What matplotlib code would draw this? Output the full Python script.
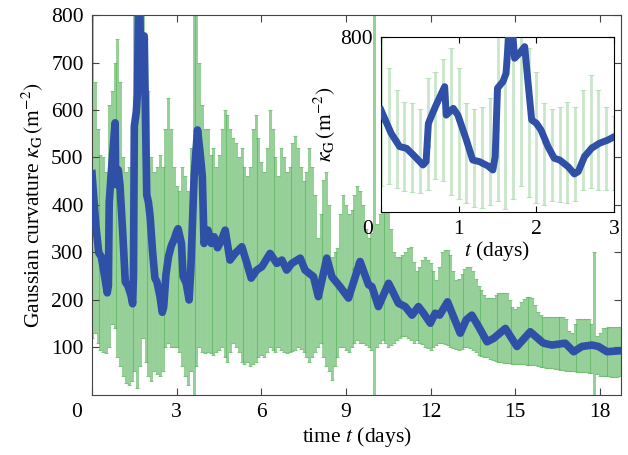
import matplotlib
matplotlib.use('Agg')
import matplotlib.pyplot as plt
import numpy as np

plt.rcParams['font.family'] = ['Liberation Serif', 'DejaVu Serif']
plt.rcParams['mathtext.fontset'] = 'stix'
plt.rcParams['font.size'] = 15.5

# --- smoothed Gaussian curvature (blue line) ---
smooth_t = [0.0, 0.13, 0.24, 0.33, 0.43, 0.54, 0.58, 0.61, 0.69, 0.78, 0.82, 0.84, 0.93, 0.99,
            1.10, 1.18, 1.27, 1.38, 1.44, 1.47, 1.50, 1.57, 1.61, 1.64, 1.66, 1.70, 1.72, 1.78,
            1.85, 1.89, 1.94, 2.00, 2.06, 2.15, 2.23, 2.30, 2.41, 2.49, 2.54, 2.62, 2.71, 2.81,
            2.92, 3.00, 3.05, 3.17, 3.23, 3.34, 3.44, 3.50, 3.62, 3.74, 3.82, 3.91, 3.97, 4.11,
            4.23, 4.33, 4.45, 4.58, 4.72, 4.89, 5.07, 5.31, 5.49, 5.64, 5.84, 6.02, 6.31, 6.55,
            6.73, 6.90, 7.08, 7.38, 7.55, 7.85, 8.02, 8.32, 8.50, 8.79, 9.09, 9.50, 9.80, 9.92,
            10.15, 10.51, 10.63, 10.86, 11.10, 11.34, 11.57, 11.75, 11.99, 12.16, 12.32, 12.60,
            12.81, 13.05, 13.26, 13.46, 13.70, 14.00, 14.23, 14.65, 15.06, 15.53, 16.00, 16.30,
            16.77, 17.07, 17.36, 17.72, 17.95, 18.25, 18.70]
smooth_kg = [466, 360, 299, 291, 256, 215, 230, 405, 474, 543, 573, 443, 474, 443,
             329, 238, 230, 210, 192, 253, 566, 596, 634, 786, 840, 800, 703, 725,
             756, 604, 421, 406, 375, 299, 246, 238, 207, 174, 185, 253, 291, 314,
             329, 344, 350, 319, 249, 235, 200, 263, 460, 558, 516, 460, 319, 347,
             319, 333, 310, 325, 347, 284, 298, 312, 277, 246, 263, 270, 298, 277,
             284, 263, 277, 288, 263, 249, 207, 288, 249, 228, 204, 281, 232, 228,
             186, 235, 221, 193, 186, 168, 186, 172, 151, 172, 168, 196,
             165, 130, 158, 168, 144, 112, 119, 140, 102, 133, 109, 105,
             109, 91, 102, 105, 102, 91, 93]

# --- measurements with error bars (green), one every 0.1 days ---
obs_t = np.arange(0, 18.75, 0.1)
obs_kg = [420, 380, 330, 300, 270, 230, 300, 470, 520, 470,
          420, 320, 240, 220, 200, 560, 640, 760, 730, 560,
          400, 320, 260, 240, 210, 180, 260, 300, 310, 330,
          340, 320, 250, 230, 200, 280, 460, 560, 510, 440,
          320, 350, 320, 330, 310, 320, 340, 345, 300, 285,
          295, 300, 305, 310, 290, 275, 250, 255, 262, 268,
          272, 282, 292, 298, 290, 278, 280, 285, 272, 264,
          272, 280, 285, 288, 282, 265, 258, 252, 248, 230,
          207, 240, 270, 288, 268, 249, 240, 232, 228, 220,
          210, 205, 235, 265, 278, 281, 265, 245, 232, 228,
          205, 190, 200, 215, 230, 235, 222, 208, 195, 192,
          190, 186, 178, 170, 172, 182, 184, 175, 165, 155,
          151, 165, 172, 168, 178, 190, 196, 182, 165, 150,
          135, 135, 152, 162, 168, 163, 152, 144, 130, 116,
          112, 115, 119, 125, 132, 137, 140, 136, 124, 112,
          104, 104, 112, 122, 130, 133, 128, 120, 114, 110,
          109, 107, 106, 105, 106, 108, 109, 109, 106, 98,
          92, 91, 97, 101, 102, 103, 104, 105, 104, 102,
          100, 96, 92, 91, 91, 92, 92, 93]
obs_hi = [800, 660, 560, 505, 500, 470, 611, 640, 700, 750,
          660, 500, 470, 480, 520, 800, 800, 800, 800, 750,
          640, 500, 470, 480, 505, 480, 560, 625, 560, 480,
          440, 430, 480, 460, 430, 520, 800, 800, 700, 610,
          560, 560, 505, 520, 480, 505, 560, 600, 590, 560,
          540, 530, 500, 520, 480, 460, 480, 560, 590, 540,
          490, 470, 520, 600, 560, 500, 460, 520, 500, 470,
          480, 530, 545, 520, 480, 450, 470, 520, 480, 420,
          330, 380, 453, 470, 400, 290, 300, 310, 380, 420,
          400, 380, 390, 420, 440, 430, 400, 350, 330, 340,
          800, 360, 380, 410, 420, 400, 350, 300, 290, 290,
          295, 300, 310, 312, 280, 262, 270, 285, 290, 285,
          277, 260, 242, 270, 300, 305, 305, 295, 260, 242,
          245, 255, 265, 270, 270, 262, 245, 230, 220, 210,
          205, 205, 205, 210, 214, 214, 214, 214, 200, 185,
          180, 185, 195, 202, 207, 207, 205, 190, 175, 168,
          165, 165, 165, 165, 165, 165, 165, 165, 160, 135,
          130, 150, 160, 160, 160, 160, 160, 150, 300, 125,
          130, 140, 142, 144, 144, 144, 144, 144]
obs_lo = [120, 130, 110, 95, 90, 88, 100, 150, 140, 80,
          60, 40, 25, 20, 30, 50, 15, 60, 120, 70,
          40, 30, 50, 45, 40, 50, 100, 110, 100, 100,
          100, 90, 60, 40, 20, 50, 0, 60, 100, 90,
          88, 90, 88, 85, 90, 95, 100, 80, 70, 90,
          110, 100, 90, 70, 65, 70, 60, 65, 70, 80,
          85, 80, 90, 100, 95, 90, 100, 95, 90, 88,
          90, 92, 95, 100, 96, 90, 80, 70, 80, 90,
          100, 110, 80, 60, 50, 31, 60, 80, 100, 100,
          95, 90, 100, 110, 115, 110, 110, 105, 100, 95,
          0, 100, 110, 115, 110, 100, 105, 110, 116, 120,
          125, 125, 120, 116, 110, 115, 110, 108, 100, 98,
          95, 100, 105, 110, 110, 108, 105, 100, 98, 96,
          95, 96, 100, 100, 98, 95, 90, 85, 82, 80,
          80, 76, 74, 72, 70, 70, 68, 67, 67, 66,
          66, 66, 65, 65, 64, 64, 63, 62, 60, 59,
          58, 57, 56, 56, 55, 54, 53, 52, 51, 50,
          50, 50, 49, 49, 48, 48, 47, 47, 0, 44,
          40, 40, 39, 39, 38, 38, 38, 39]

GREEN = '#4caf50'
BLUE = '#3050a8'

kg = np.array(obs_kg)
yerr = [kg - np.array(obs_lo), np.array(obs_hi) - kg]

fig = plt.figure(figsize=(6.28, 4.55), dpi=100)
ax = fig.add_axes([0.1465, 0.132, 0.8425, 0.835])

ax.errorbar(obs_t, kg, yerr=yerr, fmt='o', ms=2.5, color=GREEN, ecolor=GREEN,
            elinewidth=2.1, capsize=1.5, capthick=0.8, alpha=0.6, zorder=1)
ax.plot(smooth_t, smooth_kg, color=BLUE, lw=5.5, solid_joinstyle='round', zorder=3)

ax.set_xlim(0, 18.75)
ax.set_ylim(0, 800)
ax.set_xticks([0, 3, 6, 9, 12, 15, 18])
ax.set_xticklabels(['', '3', '6', '9', '12', '15', '18'])
ax.set_yticks([100, 200, 300, 400, 500, 600, 700, 800])
ax.tick_params(direction='in', top=True, right=True, length=5, width=0.8,
               color='#444444', pad=6)
for s in ax.spines.values():
    s.set_color('#444444')
ax.annotate('0', xy=(0, 0), xycoords='axes fraction', xytext=(-11, -6),
            textcoords='offset points', ha='center', va='top')
ax.set_xlabel('time $t$ (days)', labelpad=2)
ax.set_ylabel('Gaussian curvature $\\kappa_\\mathrm{G}\\,(\\mathrm{m}^{-2})$', labelpad=4)

# --- inset: first three days ---
axin = fig.add_axes([0.6067, 0.534, 0.371, 0.3846])
axin.errorbar(obs_t, kg, yerr=yerr, fmt='o', ms=3, color=GREEN, ecolor=GREEN,
              elinewidth=2.0, capsize=2.5, capthick=0.8, alpha=0.3, zorder=1)
axin.plot(smooth_t, smooth_kg, color=BLUE, lw=5.0, solid_joinstyle='round', zorder=3)
axin.set_xlim(0, 3)
axin.set_ylim(0, 800)
axin.set_xticks([0, 1, 2, 3])
axin.set_xticklabels(['', '1', '2', '3'])
axin.set_yticks([800])
axin.tick_params(direction='in', top=True, right=True, length=4, width=0.8, pad=6)
axin.annotate('0', xy=(0, 0), xycoords='axes fraction', xytext=(-10, -6),
              textcoords='offset points', ha='center', va='top')
axin.set_xlabel('$t$ (days)', labelpad=0)
axin.set_ylabel('$\\kappa_\\mathrm{G}\\,(\\mathrm{m}^{-2})$', labelpad=2)

fig.savefig('out.png', dpi=100)
